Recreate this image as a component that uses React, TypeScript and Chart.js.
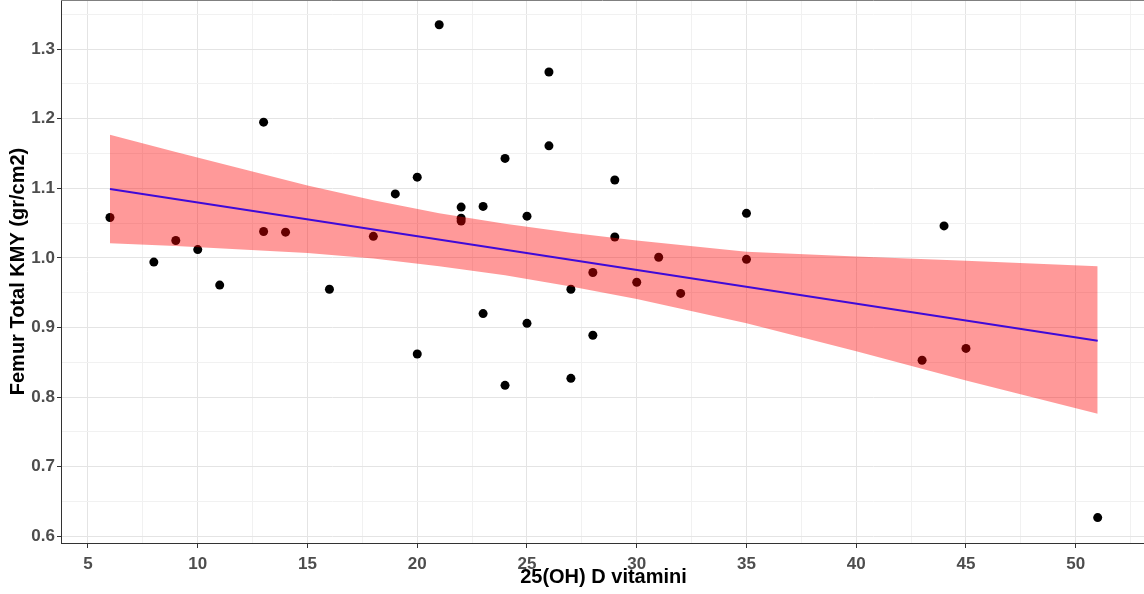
import React, { useEffect, useRef } from "react";
import Chart from "chart.js/auto";

// Observed values: serum 25(OH) D vitamin vs. femur total bone mineral density
const vitaminD = [6, 8, 9, 10, 11, 13, 13, 14, 16, 18, 19, 20, 20, 21, 22, 22, 22, 23, 23, 24, 24, 25, 25, 26, 26, 27, 27, 28, 28, 29, 29, 30, 31, 32, 35, 35, 43, 44, 45, 51];
const femurKmy = [1.058, 0.994, 1.025, 1.012, 0.961, 1.195, 1.038, 1.037, 0.955, 1.031, 1.092, 1.116, 0.862, 1.335, 1.073, 1.057, 1.053, 1.074, 0.92, 1.143, 0.817, 1.06, 0.906, 1.267, 1.161, 0.955, 0.827, 0.979, 0.889, 1.112, 1.03, 0.965, 1.001, 0.949, 1.064, 0.998, 0.853, 1.046, 0.87, 0.627];

// Linear fit and its confidence band
const fitX = [6, 51];
const fitY = [1.099, 0.881];
const bandX = [6, 9, 12, 15, 18, 21, 24, 27, 30, 35, 40, 45, 51];
const bandUpper = [1.177, 1.152, 1.128, 1.104, 1.083, 1.064, 1.049, 1.036, 1.025, 1.009, 1.002, 0.996, 0.988];
const bandLower = [1.021, 1.017, 1.012, 1.007, 0.999, 0.988, 0.975, 0.959, 0.941, 0.906, 0.866, 0.824, 0.776];

// Axis ticks (major labelled, minor only as grid lines)
const xMajorTicks = [5, 10, 15, 20, 25, 30, 35, 40, 45, 50];
const xMinorTicks = [7.5, 12.5, 17.5, 22.5, 27.5, 32.5, 37.5, 42.5, 47.5, 52.5];
const yMajorTicks = [0.6, 0.7, 0.8, 0.9, 1.0, 1.1, 1.2, 1.3];
const yMinorTicks = [0.65, 0.75, 0.85, 0.95, 1.05, 1.15, 1.25, 1.35];

const xTitle = "25(OH) D vitamini";
const yTitle = "Femur Total KMY (gr/cm2)";

const FONT = '"Liberation Sans", Arial, Helvetica, sans-serif';

const isIn = (list: number[], v: number) => list.some((m) => Math.abs(m - v) < 1e-6);

const framePlugin = {
  id: "frame",
  afterDraw(chart: any) {
    const { ctx, chartArea: a } = chart;
    ctx.save();
    ctx.strokeStyle = "#808080";
    ctx.lineWidth = 1;
    ctx.beginPath();
    ctx.moveTo(a.left, a.top + 0.5);
    ctx.lineTo(a.right, a.top + 0.5);
    ctx.stroke();

    ctx.fillStyle = "#000000";
    ctx.font = `bold 20px ${FONT}`;
    ctx.textAlign = "center";
    ctx.textBaseline = "middle";
    ctx.fillText(xTitle, (a.left + a.right) / 2 + 1, 577);

    ctx.translate(18, (a.top + a.bottom) / 2);
    ctx.rotate(-Math.PI / 2);
    ctx.font = `bold 20px ${FONT}`;
    ctx.fillText(yTitle, 0, 0);
    ctx.restore();
  },
};

export default function App() {
  const canvasRef = useRef<HTMLCanvasElement | null>(null);

  useEffect(() => {
    if (!canvasRef.current) return;
    const points = vitaminD.map((x, i) => ({ x, y: femurKmy[i] }));
    const upper = bandX.map((x, i) => ({ x, y: bandUpper[i] }));
    const lower = bandX.map((x, i) => ({ x, y: bandLower[i] }));
    const fit = fitX.map((x, i) => ({ x, y: fitY[i] }));

    const chart = new Chart(canvasRef.current, {
      type: "scatter",
      data: {
        datasets: [
          {
            label: "fit",
            data: fit,
            showLine: true,
            borderColor: "#3f0ad8",
            borderWidth: 2,
            pointRadius: 0,
            fill: false,
            order: 1,
          },
          {
            label: "upper",
            data: upper,
            showLine: true,
            borderWidth: 0,
            borderColor: "rgba(0,0,0,0)",
            backgroundColor: "rgba(255,0,0,0.4)",
            pointRadius: 0,
            fill: "+1",
            order: 2,
          },
          {
            label: "lower",
            data: lower,
            showLine: true,
            borderWidth: 0,
            borderColor: "rgba(0,0,0,0)",
            pointRadius: 0,
            fill: false,
            order: 2,
          },
          {
            label: "points",
            data: points,
            backgroundColor: "#000000",
            borderColor: "#000000",
            borderWidth: 0,
            pointRadius: 4.5,
            order: 3,
          },
        ],
      },
      options: {
        animation: false,
        responsive: true,
        maintainAspectRatio: false,
        layout: { padding: 0, autoPadding: false },
        plugins: {
          legend: { display: false },
          tooltip: { enabled: false },
        },
        scales: {
          x: {
            type: "linear",
            min: 3.77,
            max: 53.11,
            afterBuildTicks: (scale: any) => {
              scale.ticks = [...xMajorTicks, ...xMinorTicks].sort((a, b) => a - b).map((value) => ({ value }));
            },
            afterFit: (scale: any) => {
              scale.height = 51;
              scale.paddingLeft = 0;
              scale.paddingRight = 0;
            },
            border: { display: true, color: "#333333", width: 1 },
            grid: {
              color: (c: any) => (isIn(xMajorTicks, c.tick?.value) ? "#e4e4e4" : "#f1f1f1"),
              tickColor: (c: any) => (isIn(xMajorTicks, c.tick?.value) ? "#333333" : "rgba(0,0,0,0)"),
              tickLength: 5,
              lineWidth: 1,
            },
            ticks: {
              autoSkip: false,
              maxRotation: 0,
              padding: 6,
              color: "#4d4d4d",
              font: { family: FONT, size: 17, weight: "bold" },
              callback: (v: any) => (isIn(xMajorTicks, Number(v)) ? String(v) : ""),
            },
          },
          y: {
            type: "linear",
            min: 0.5905,
            max: 1.3705,
            afterBuildTicks: (scale: any) => {
              scale.ticks = [...yMajorTicks, ...yMinorTicks].sort((a, b) => a - b).map((value) => ({ value }));
            },
            afterFit: (scale: any) => {
              scale.width = 61;
              scale.paddingTop = 0;
              scale.paddingBottom = 0;
            },
            border: { display: true, color: "#333333", width: 1 },
            grid: {
              color: (c: any) => (isIn(yMajorTicks, c.tick?.value) ? "#e4e4e4" : "#f1f1f1"),
              tickColor: (c: any) => (isIn(yMajorTicks, c.tick?.value) ? "#333333" : "rgba(0,0,0,0)"),
              tickLength: 4,
              lineWidth: 1,
            },
            ticks: {
              autoSkip: false,
              padding: 2,
              color: "#4d4d4d",
              font: { family: FONT, size: 17, weight: "bold" },
              callback: (v: any) => (isIn(yMajorTicks, Number(v)) ? Number(v).toFixed(1) : ""),
            },
          },
        },
      },
      plugins: [framePlugin],
    });
    return () => chart.destroy();
  }, []);

  return (
    <div style={{ position: "fixed", left: 0, top: 0, width: 1144, height: 594, background: "#ffffff" }}>
      <canvas ref={canvasRef} style={{ display: "block" }} />
    </div>
  );
}
